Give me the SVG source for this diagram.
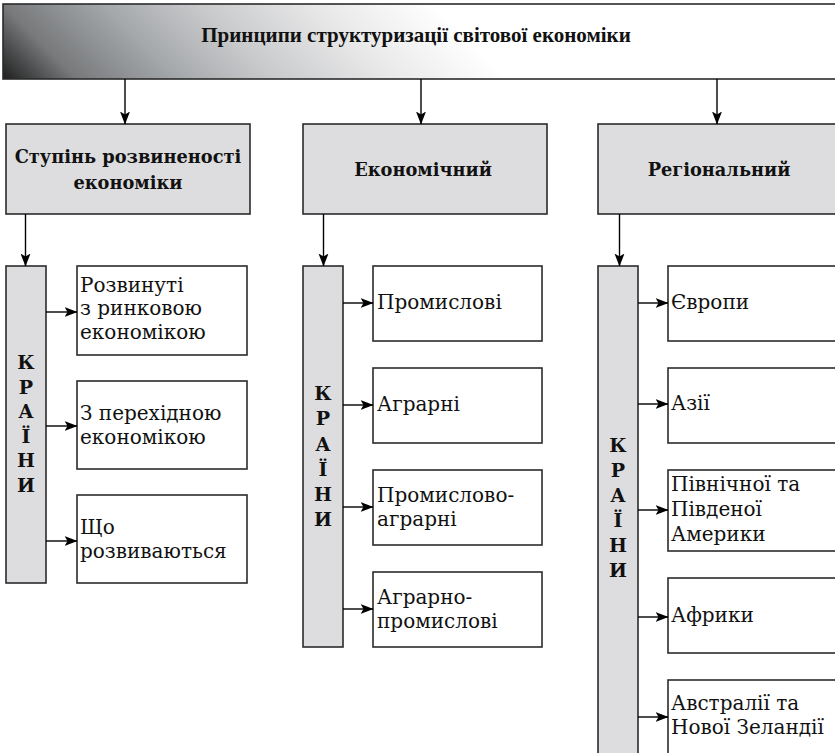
<svg xmlns="http://www.w3.org/2000/svg" width="835" height="753" viewBox="0 0 835 753">
<defs>
<linearGradient id="hdr" gradientUnits="userSpaceOnUse" x1="0" y1="80" x2="300" y2="-220">
<stop offset="0" stop-color="#1a1a1a"/>
<stop offset="0.13" stop-color="#77797b"/>
<stop offset="0.3" stop-color="#a5a8ab"/>
<stop offset="0.46" stop-color="#c9cacc"/>
<stop offset="0.65" stop-color="#e8e8e9"/>
<stop offset="0.85" stop-color="#ffffff"/>
</linearGradient>
<marker id="ah" markerWidth="13" markerHeight="11" refX="12.5" refY="5.5" orient="auto" markerUnits="userSpaceOnUse">
<path d="M0,0.5 L13,5.5 L0,10.5 L3,5.5 Z" fill="#000"/>
</marker>
<style>
.box{fill:#fff;stroke:#2b2b2b;stroke-width:1.6}
.gbox{fill:#dddddf;stroke:#2b2b2b;stroke-width:1.6}
.con{stroke:#000;stroke-width:1.4;fill:none;marker-end:url(#ah)}
.t{font-family:"DejaVu Serif","Liberation Serif",serif;font-size:20px;fill:#111}
.h{font-family:"DejaVu Serif","Liberation Serif",serif;font-size:17.8px;font-weight:bold;fill:#111;text-anchor:middle}
.v{font-family:"DejaVu Serif","Liberation Serif",serif;font-size:19px;font-weight:bold;fill:#111;text-anchor:middle}
.title{font-family:"Liberation Serif","Times New Roman",serif;font-size:21px;font-weight:bold;fill:#111;text-anchor:middle}
</style>
</defs>

<g id="header">
<rect x="3" y="4" width="845" height="75" fill="url(#hdr)" stroke="#2b2b2b" stroke-width="1.6"/>
<text class="title" x="416" y="42">Принципи структуризації світової економіки</text>
</g>

<g id="stupin">
<rect class="gbox" x="6" y="124" width="244" height="90"/>
<text class="h" x="128" y="163">Ступінь розвиненості</text>
<text class="h" x="128" y="189">економіки</text>
</g>
<g id="ekonomichnyi">
<rect class="gbox" x="303" y="124" width="244" height="90"/>
<text class="h" x="423" y="176">Економічний</text>
</g>
<g id="rehionalnyi">
<rect class="gbox" x="598" y="124" width="250" height="90"/>
<text class="h" x="719" y="176">Регіональний</text>
</g>

<g id="krainy1">
<rect class="gbox" x="6" y="266" width="40" height="317"/>
<text class="v" x="26" y="369">К</text>
<text class="v" x="26" y="393.5">Р</text>
<text class="v" x="26" y="418">А</text>
<text class="v" x="26" y="442.5">Ї</text>
<text class="v" x="26" y="467">Н</text>
<text class="v" x="26" y="491.5">И</text>
</g>
<g id="rozvynuti">
<rect class="box" x="77" y="266" width="170" height="89"/>
<text class="t" x="80" y="291.5">Розвинуті</text>
<text class="t" x="80" y="315">з ринковою</text>
<text class="t" x="80" y="338.5">економікою</text>
</g>
<g id="perekhidna">
<rect class="box" x="77" y="381" width="170" height="88"/>
<text class="t" x="80" y="420">З перехідною</text>
<text class="t" x="80" y="443.5">економікою</text>
</g>
<g id="rozvyvaiutsia">
<rect class="box" x="77" y="495" width="170" height="88"/>
<text class="t" x="80" y="534">Що</text>
<text class="t" x="80" y="557.5">розвиваються</text>
</g>

<g id="krainy2">
<rect class="gbox" x="303" y="266" width="40" height="381"/>
<text class="v" x="323" y="400">К</text>
<text class="v" x="323" y="425">Р</text>
<text class="v" x="323" y="450.5">А</text>
<text class="v" x="323" y="476">Ї</text>
<text class="v" x="323" y="501">Н</text>
<text class="v" x="323" y="526">И</text>
</g>
<g id="promyslovi">
<rect class="box" x="373" y="266" width="169" height="75"/>
<text class="t" x="377" y="309">Промислові</text>
</g>
<g id="ahrarni">
<rect class="box" x="373" y="368" width="169" height="75"/>
<text class="t" x="377" y="411">Аграрні</text>
</g>
<g id="promyslovo-ahrarni">
<rect class="box" x="373" y="470" width="169" height="75"/>
<text class="t" x="377" y="502">Промислово-</text>
<text class="t" x="377" y="525.5">аграрні</text>
</g>
<g id="ahrarno-promyslovi">
<rect class="box" x="373" y="572" width="169" height="75"/>
<text class="t" x="377" y="604">Аграрно-</text>
<text class="t" x="377" y="627.5">промислові</text>
</g>

<g id="krainy3">
<rect class="gbox" x="598" y="266" width="40" height="500"/>
<text class="v" x="618" y="452">К</text>
<text class="v" x="618" y="477">Р</text>
<text class="v" x="618" y="502">А</text>
<text class="v" x="618" y="527">Ї</text>
<text class="v" x="618" y="552">Н</text>
<text class="v" x="618" y="577">И</text>
</g>
<g id="yevropy">
<rect class="box" x="668" y="266" width="180" height="75"/>
<text class="t" x="671" y="309">Європи</text>
</g>
<g id="azii">
<rect class="box" x="668" y="368" width="180" height="75"/>
<text class="t" x="671" y="410">Азії</text>
</g>
<g id="ameryky">
<rect class="box" x="668" y="470" width="180" height="81"/>
<text class="t" x="671" y="491">Північної та</text>
<text class="t" x="671" y="516">Південої</text>
<text class="t" x="671" y="541">Америки</text>
</g>
<g id="afryky">
<rect class="box" x="668" y="578" width="180" height="75"/>
<text class="t" x="671" y="622">Африки</text>
</g>
<g id="avstralii">
<rect class="box" x="668" y="680" width="180" height="90"/>
<text class="t" x="671" y="710">Австралії та</text>
<text class="t" x="671" y="734">Нової Зеландії</text>
</g>

<g id="connectors">
<line class="con" x1="125" y1="79" x2="125" y2="124"/>
<line class="con" x1="421" y1="79" x2="421" y2="124"/>
<line class="con" x1="717" y1="79" x2="717" y2="124"/>
<line class="con" x1="25.5" y1="214" x2="25.5" y2="266"/>
<line class="con" x1="323.5" y1="214" x2="323.5" y2="266"/>
<line class="con" x1="619.5" y1="214" x2="619.5" y2="266"/>
<line class="con" x1="46" y1="312" x2="77" y2="312"/>
<line class="con" x1="46" y1="426" x2="77" y2="426"/>
<line class="con" x1="46" y1="541" x2="77" y2="541"/>
<line class="con" x1="343" y1="303" x2="373" y2="303"/>
<line class="con" x1="343" y1="405" x2="373" y2="405"/>
<line class="con" x1="343" y1="507" x2="373" y2="507"/>
<line class="con" x1="343" y1="609" x2="373" y2="609"/>
<line class="con" x1="638" y1="303" x2="668" y2="303"/>
<line class="con" x1="638" y1="404" x2="668" y2="404"/>
<line class="con" x1="638" y1="510" x2="668" y2="510"/>
<line class="con" x1="638" y1="617" x2="668" y2="617"/>
<line class="con" x1="638" y1="717" x2="668" y2="717"/>
</g>
</svg>
